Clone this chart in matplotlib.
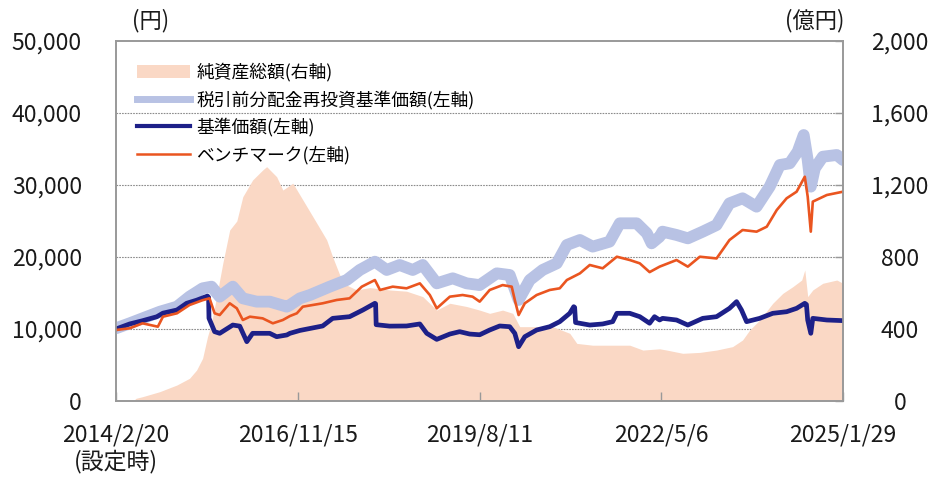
import numpy as np
import pandas as pd
import matplotlib
matplotlib.use("Agg")
import matplotlib.pyplot as plt
from matplotlib.patches import Patch
from matplotlib.lines import Line2D

plt.rcParams['font.family'] = ['Noto Sans CJK JP', 'DejaVu Sans']

# 純資産総額 (億円, 右軸)
nav_dates = ['2014-02-20', '2014-05-25', '2014-06-10', '2014-07-16', '2014-10-19', '2015-01-21',
             '2015-03-31', '2015-05-09', '2015-06-11', '2015-07-08', '2015-07-30', '2015-08-27',
             '2015-09-30', '2015-11-07', '2015-12-16', '2016-01-18', '2016-03-12', '2016-05-06',
             '2016-05-28', '2016-07-22', '2016-08-25', '2016-10-19', '2017-01-04', '2017-02-28',
             '2017-04-23', '2017-05-26', '2017-07-04', '2017-08-11', '2017-10-05', '2017-12-16',
             '2018-04-04', '2018-07-06', '2018-10-03', '2018-12-19', '2019-03-01', '2019-06-01',
             '2019-08-12', '2019-10-06', '2019-12-16', '2020-02-10', '2020-03-19', '2020-06-20',
             '2020-09-17', '2020-12-19', '2021-01-27', '2021-04-24', '2021-08-12', '2021-11-14',
             '2022-01-25', '2022-04-27', '2022-06-05', '2022-09-01', '2022-12-04', '2023-03-06',
             '2023-06-02', '2023-07-27', '2023-09-04', '2023-10-29', '2024-01-09', '2024-03-04',
             '2024-04-28', '2024-06-16', '2024-07-03', '2024-07-19', '2024-08-16', '2024-10-10',
             '2024-12-26', '2025-01-29']
nav_values = [0, 0, 15, 24, 52, 89,
              126, 172, 237, 357, 433, 580,
              765, 950, 1000, 1135, 1228, 1283,
              1302, 1246, 1172, 1210, 1080, 987,
              895, 800, 700, 644, 617, 630,
              617, 610, 580, 505, 543, 525,
              505, 487, 505, 487, 413, 413,
              413, 376, 320, 310, 310, 310,
              283, 290, 283, 265, 270, 283,
              302, 339, 394, 450, 543, 598,
              635, 672, 728, 580, 617, 654,
              672, 654]

# 税引前分配金再投資基準価額 (円)
reinv_dates = ['2014-02-20', '2014-05-06', '2014-07-16', '2014-10-19', '2015-01-21', '2015-03-31',
               '2015-06-11', '2015-07-30', '2015-09-13', '2015-11-24', '2016-01-18', '2016-04-03',
               '2016-06-14', '2016-09-16', '2016-10-03', '2016-11-27', '2017-01-21', '2017-05-10',
               '2017-08-11', '2017-10-22', '2018-01-13', '2018-03-19', '2018-05-29', '2018-08-09',
               '2018-10-03', '2018-12-19', '2019-03-17', '2019-06-01', '2019-08-12', '2019-11-14',
               '2020-01-24', '2020-03-13', '2020-05-13', '2020-07-23', '2020-10-09', '2020-12-03',
               '2021-02-13', '2021-04-24', '2021-07-26', '2021-09-20', '2021-12-22', '2022-02-16',
               '2022-03-14', '2022-04-27', '2022-05-13', '2022-07-29', '2022-09-29', '2022-12-20',
               '2023-03-06', '2023-05-16', '2023-07-27', '2023-10-12', '2023-12-23', '2024-02-17',
               '2024-04-11', '2024-05-25', '2024-06-27', '2024-07-19', '2024-08-05', '2024-08-27',
               '2024-10-10', '2024-12-26', '2025-01-29']
reinv_values = [10100, 10790, 11480, 12400, 13100, 14490,
                15650, 15880, 14490, 15880, 14260, 13800,
                13800, 13100, 13330, 14260, 14720, 15880,
                16800, 18200, 19350, 18200, 18890, 18200,
                18890, 16340, 17040, 16340, 16100, 17730,
                17500, 14030, 16800, 18200, 19120, 21670,
                22360, 21440, 22130, 24680, 24680, 23290,
                21900, 22820, 23520, 23060, 22590, 23520,
                24440, 27450, 28150, 26990, 29770, 32780,
                33010, 34630, 36940, 33470, 29770, 32310,
                33930, 34170, 33470]

# 基準価額 (円)
price_dates = ['2014-02-20', '2014-05-06', '2014-07-16', '2014-10-02', '2014-11-05', '2015-01-21',
               '2015-03-15', '2015-05-09', '2015-07-08', '2015-07-14', '2015-07-16', '2015-08-16',
               '2015-09-13', '2015-11-24', '2016-01-01', '2016-02-09', '2016-03-12', '2016-06-14',
               '2016-07-22', '2016-09-16', '2016-10-03', '2016-11-27', '2017-04-01', '2017-05-26',
               '2017-08-27', '2017-11-08', '2018-01-13', '2018-01-17', '2018-01-20', '2018-04-04',
               '2018-07-06', '2018-09-17', '2018-10-25', '2018-12-19', '2019-03-01', '2019-04-24',
               '2019-06-18', '2019-08-12', '2019-10-06', '2019-11-30', '2020-01-24', '2020-02-21',
               '2020-03-13', '2020-04-16', '2020-06-20', '2020-08-31', '2020-10-25', '2020-12-19',
               '2021-01-10', '2021-01-15', '2021-01-20', '2021-04-08', '2021-06-18', '2021-08-12',
               '2021-09-04', '2021-11-14', '2022-01-08', '2022-03-03', '2022-03-30', '2022-04-27',
               '2022-05-13', '2022-07-29', '2022-09-29', '2022-12-20', '2023-03-06', '2023-05-16',
               '2023-06-24', '2023-07-21', '2023-08-18', '2023-10-29', '2024-01-09', '2024-03-25',
               '2024-05-19', '2024-07-03', '2024-07-12', '2024-07-19', '2024-08-05', '2024-08-16',
               '2024-11-01', '2025-01-29']
price_values = [10000, 10700, 11150, 11700, 12200, 12640,
                13570, 14000, 14580, 14400, 11500, 9630,
                9400, 10550, 10400, 8240, 9400, 9400,
                8930, 9170, 9400, 9800, 10420, 11480,
                11710, 12640, 13570, 13500, 10600, 10400,
                10420, 10700, 9400, 8560, 9300, 9630,
                9300, 9200, 9860, 10420, 10320, 9400,
                7540, 8930, 9860, 10320, 11020, 12180,
                13100, 13000, 10900, 10550, 10700, 11020,
                12180, 12180, 11710, 10800, 11710, 11250,
                11480, 11250, 10550, 11480, 11710, 12870,
                13800, 12640, 11020, 11480, 12180, 12400,
                12870, 13570, 13400, 11250, 9400, 11480,
                11250, 11160]

# ベンチマーク (円)
bm_dates = ['2014-02-20', '2014-05-06', '2014-07-16', '2014-10-08', '2014-11-05', '2015-01-21',
            '2015-03-31', '2015-06-11', '2015-07-19', '2015-08-16', '2015-09-13', '2015-11-07',
            '2015-12-16', '2016-01-18', '2016-02-26', '2016-05-06', '2016-07-01', '2016-08-25',
            '2016-10-03', '2016-11-10', '2016-12-13', '2017-04-01', '2017-06-17', '2017-08-27',
            '2017-11-02', '2018-01-13', '2018-02-10', '2018-04-21', '2018-07-06', '2018-09-17',
            '2018-11-11', '2018-12-19', '2019-03-01', '2019-05-10', '2019-07-04', '2019-08-12',
            '2019-10-06', '2019-12-16', '2020-02-04', '2020-02-21', '2020-03-13', '2020-04-16',
            '2020-06-20', '2020-08-31', '2020-10-25', '2020-12-03', '2021-02-13', '2021-04-08',
            '2021-06-18', '2021-09-04', '2021-11-14', '2022-01-08', '2022-03-03', '2022-04-27',
            '2022-07-29', '2022-09-29', '2022-12-04', '2023-03-06', '2023-05-16', '2023-07-27',
            '2023-10-12', '2023-12-07', '2024-01-31', '2024-03-25', '2024-05-19', '2024-07-03',
            '2024-07-19', '2024-08-05', '2024-08-16', '2024-11-01', '2025-01-29']
bm_values = [9860, 10100, 10790, 10320, 11710, 12180,
             13330, 14000, 14260, 12180, 11940, 13570,
             12870, 11250, 11710, 11480, 10790, 11250,
             11800, 12180, 13100, 13570, 14030, 14260,
             15880, 16800, 15420, 15880, 15650, 16340,
             14720, 12870, 14490, 14720, 14490, 13800,
             15420, 16100, 15880, 14030, 11940, 13570,
             14720, 15420, 15650, 16800, 17730, 18890,
             18430, 20040, 19580, 19120, 17900, 18660,
             19580, 18660, 20040, 19800, 22360, 23750,
             23520, 24210, 26530, 28150, 29070, 31150,
             28380, 23520, 27690, 28610, 29070]

tick_dates = ['2014-02-20', '2016-11-15', '2019-08-11', '2022-05-06', '2025-01-29']
tick_labels = ['2014/2/20\n(設定時)', '2016/11/15', '2019/8/11', '2022/5/6', '2025/1/29']

fig = plt.figure(figsize=(9.3, 4.82), dpi=100)
ax = fig.add_axes([116 / 930, 1 - 401 / 482, 727 / 930, 360 / 482])
ax2 = ax.twinx()
ax.set_zorder(ax2.get_zorder() + 1)
ax.patch.set_visible(False)

nd = pd.to_datetime(nav_dates)
ax2.fill_between(nd, 0, nav_values, color='#fad8c5', lw=0, zorder=2)
ax2.set_ylim(0, 2000)
ax2.set_yticks([0, 400, 800, 1200, 1600, 2000])
ax2.set_yticklabels(['0', '400', '800', '1,200', '1,600', '2,000'])
for v in [400, 800, 1200, 1600]:
    ax2.axhline(v, color='#8c8c8c', lw=0.8, ls=(0, (1.5, 1)), zorder=1)

ax.plot(pd.to_datetime(reinv_dates), reinv_values, color='#b8c2e4', lw=8.5,
        solid_capstyle='round', solid_joinstyle='round')
ax.plot(pd.to_datetime(price_dates), price_values, color='#1d2088', lw=3.4,
        solid_joinstyle='round')
ax.plot(pd.to_datetime(bm_dates), bm_values, color='#ea5520', lw=1.9)

ax.set_xlim(pd.Timestamp('2014-02-20'), pd.Timestamp('2025-01-29'))
ax.set_ylim(0, 50000)
ax.set_yticks(np.arange(0, 50001, 10000))
ax.set_yticklabels(['0', '10,000', '20,000', '30,000', '40,000', '50,000'])
ax.set_xticks(pd.to_datetime(tick_dates))
ax.set_xticklabels(tick_labels)

for a in (ax, ax2):
    for s in a.spines.values():
        s.set_color('#999999')
        s.set_linewidth(1.2)

ax.tick_params(axis='y', length=0, pad=24.5, labelsize=16.5, colors='#1a1a1a')
ax.tick_params(axis='x', direction='in', length=6.5, width=1, color='#999999',
               pad=16, labelsize=16.5, labelcolor='#1a1a1a')
ax2.tick_params(axis='y', direction='in', length=6, width=1, color='#999999',
                pad=41, labelsize=16.5, labelcolor='#1a1a1a')
for lab in ax2.get_yticklabels():
    lab.set_horizontalalignment('center')

fig.text(151 / 930, 1 - 21 / 482, '(円)', fontsize=16, ha='center', va='center', color='#1a1a1a')
fig.text(815 / 930, 1 - 21 / 482, '(億円)', fontsize=16, ha='center', va='center', color='#1a1a1a')

handles = [Patch(facecolor='#fad8c5', edgecolor='none'),
           Line2D([], [], color='#b8c2e4', lw=5),
           Line2D([], [], color='#1d2088', lw=3),
           Line2D([], [], color='#ea5520', lw=1.8)]
labels = ['純資産総額(右軸)', '税引前分配金再投資基準価額(左軸)', '基準価額(左軸)', 'ベンチマーク(左軸)']
ax.legend(handles, labels, loc='upper left', bbox_to_anchor=(21 / 727, 1 - 22 / 360),
          frameon=False, fontsize=12.8, handlelength=3.0, handleheight=0.75,
          handletextpad=0.35, labelspacing=0.48, borderpad=0, borderaxespad=0)

fig.savefig('out.png', dpi=100)
